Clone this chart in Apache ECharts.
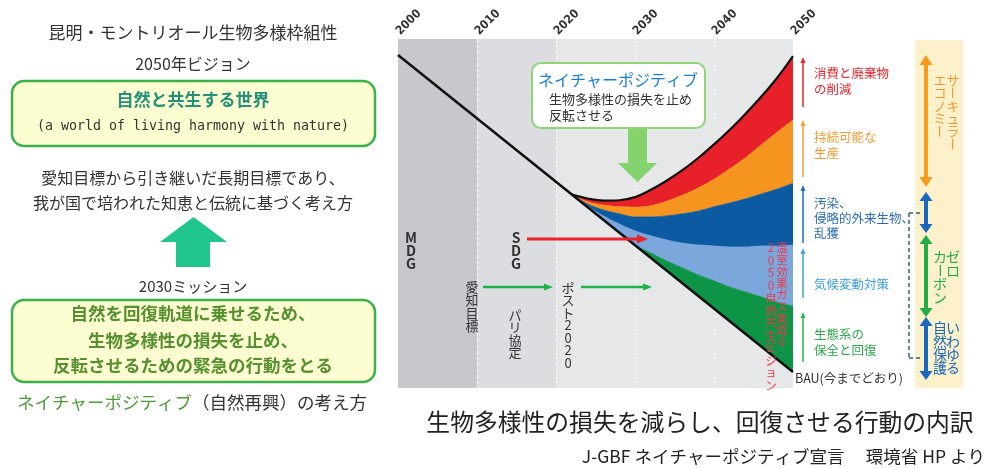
<!DOCTYPE html>
<html><head><meta charset="utf-8">
<script src="https://cdn.jsdelivr.net/npm/echarts@6/dist/echarts.min.js"></script>
<style>html,body{margin:0;padding:0;background:#fff}#c{width:999px;height:469px}</style>
</head><body><div id="c"></div>
<script>
// ---- data (y in arbitrary 0-100 units) ----
const years = [2022,2024,2026,2028,2030,2032,2034,2036,2038,2040,2042,2044,2046,2048,2050];
const bauLine = [[2000, 95.4], [2050, 4.6]];
const bau          = [55.4,51.7,48.3,44.6,40.9,37.2,33.6,30.1,26.4,22.8,19.1,15.4,12.0,8.3,4.6];
const greenTop     = [55.4,51.7,48.3,44.6,40.9,38.7,36.4,34.4,32.4,30.7,28.9,27.5,26.1,24.6,23.5];
const lightBlueTop = [55.4,52.1,49.3,47.0,45.0,43.6,42.4,41.5,41.0,40.7,40.4,40.4,40.7,40.7,41.0];
const blueTop      = [55.4,52.7,51.0,49.9,49.0,49.0,49.3,49.9,50.7,51.9,53.0,54.2,55.6,57.0,58.7];
const orangeTop    = [55.4,53.4,52.4,51.9,51.8,52.2,53.5,55.2,57.3,59.8,62.8,66.0,69.7,73.3,76.8];
const natureTop    = [55.4,54.3,53.7,53.8,54.7,56.8,59.4,62.4,65.9,69.8,74.0,78.6,83.5,88.9,95.1];
const bandColors = ['#c6c8cb', '#dcdde0', '#e6e7e9', '#e6e7e9', '#e6e7e9'];

const FONT = '"Noto Sans CJK JP", "Noto Sans CJK SC", sans-serif';
// data rows are [value, year] so that the stack is applied to the value dimension
const rows = arr => years.map((y, i) => [arr[i], y]);
const diffRows = (a, b) => years.map((y, i) => [+(a[i] - b[i]).toFixed(2), y]);

function T(x, y, text, size, color, opt) {
  opt = opt || {};
  const al = opt.align || 'center';
  return {type: 'text', x: x, y: y, z: 50, silent: true, rotation: opt.rotation || 0,
    style: Object.assign({text: text, fill: color, fontSize: size, fontFamily: opt.family || FONT,
      fontWeight: opt.bold ? 'bold' : 'normal', align: al, verticalAlign: 'middle',
      textAlign: al, textVerticalAlign: 'middle'}, opt.style || {})};
}
function VT(x, y0, str, lh, size, color, bold) {
  return Array.from(str).map((c, i) => T(x, y0 + i * lh, c, size, color,
    {bold: bold, rotation: c === 'ー' ? -Math.PI / 2 : 0}));
}
function L(x1, y1, x2, y2, color, w, dash) {
  return {type: 'line', z: 50, silent: true, shape: {x1, y1, x2, y2},
    style: {stroke: color, lineWidth: w, lineDash: dash || null}};
}
function P(points, color) {
  return {type: 'polygon', z: 50, silent: true, shape: {points: points}, style: {fill: color}};
}
function R(x, y, w, h, r, fill, stroke, lw) {
  return {type: 'rect', z: 40, silent: true, shape: {x, y, width: w, height: h, r: r},
    style: {fill: fill, stroke: stroke || null, lineWidth: lw || 0}};
}
function arrowUp(x, yT, yB, color, w, hw, hh) {
  return [L(x, yT + hh - 1, x, yB, color, w), P([[x - hw / 2, yT + hh], [x, yT], [x + hw / 2, yT + hh]], color)];
}
function arrowRight(x1, x2, y, color, w, hw, hl) {
  return [L(x1, y, x2 - hl + 1, y, color, w), P([[x2 - hl, y - hw / 2], [x2, y], [x2 - hl, y + hw / 2]], color)];
}
function dbl(x, y1, y2, color, w, hw, hh) {
  return [L(x, y1 + hh - 1, x, y2 - hh + 1, color, w),
    P([[x - hw / 2, y1 + hh], [x, y1], [x + hw / 2, y1 + hh]], color),
    P([[x - hw / 2, y2 - hh], [x, y2], [x + hw / 2, y2 - hh]], color)];
}

const g = [];
// ---- left panel ----
g.push(T(193, 33, '昆明・モントリオール生物多様枠組性', 17, '#333'));
g.push(T(193, 64, '2050年ビジョン', 16, '#333'));
g.push(R(12, 81, 363, 65, 12, '#fdfdd2', '#3bb14a', 2.5));
g.push(T(193, 100, '自然と共生する世界', 17, '#23917a', {bold: true}));
g.push(T(193, 127, '(a world of living harmony with nature)', 13.3, '#333', {family: '"DejaVu Sans Mono", monospace'}));
g.push(T(193, 178, '愛知目標から引き継いだ長期目標であり、', 16, '#333'));
g.push(T(193, 203, '我が国で培われた知恵と伝統に基づく考え方', 16, '#333'));
g.push(P([[160, 242], [193.5, 217], [227, 242], [210, 242], [210, 267], [176, 267], [176, 242]], '#1fc58b'));
g.push(T(193, 286, '2030ミッション', 15, '#333'));
g.push(R(12, 300, 363, 82, 12, '#fdfdd2', '#3bb14a', 2.5));
g.push(T(193, 313, '自然を回復軌道に乗せるため、', 17.5, '#56902f', {bold: true}));
g.push(T(193, 340, '生物多様性の損失を止め、', 17.5, '#56902f', {bold: true}));
g.push(T(193, 365, '反転させるための緊急の行動をとる', 17.5, '#56902f', {bold: true}));
g.push(T(17, 402, '{a|ネイチャーポジティブ}{b|（自然再興）の考え方}', 17.5, '#333', {align: 'left', style: {
  rich: {a: {fill: '#4f9a3a', fontSize: 17.5, fontFamily: FONT}, b: {fill: '#333', fontSize: 17.5, fontFamily: FONT}}}}));

// ---- chart annotations ----
g.push(R(532, 63, 173, 65, 9, '#ffffff', '#90d47a', 2));
g.push(T(538, 80, 'ネイチャーポジティブ', 16, '#1b7fd4', {align: 'left'}));
g.push(T(549, 99, '生物多様性の損失を止め', 13, '#333', {align: 'left'}));
g.push(T(549, 115, '反転させる', 13, '#333', {align: 'left'}));
g.push(P([[628, 129], [647, 129], [647, 163], [657, 163], [637.5, 182], [618, 163], [628, 163]], '#84d36c'));

g.push(...VT(411, 238, 'MDG', 13, 14, '#333', true));
g.push(...VT(516, 238, 'SDG', 13, 14, '#333', true));
g.push(...arrowRight(527, 648, 239, '#e8242a', 3, 9, 11));
g.push(...VT(472, 287, '愛知目標', 13, 13, '#333'));
g.push(...arrowRight(483, 553, 287, '#1db34a', 2.5, 7, 9));
g.push(...VT(515, 315, 'パリ協定', 12.5, 13, '#333'));
g.push(...VT(568, 288, 'ポスト2020', 12.5, 13, '#333'));
g.push(...arrowRight(581, 652, 287, '#1db34a', 2.5, 7, 9));
g.push(...VT(782, 248, '温室効果ガス実質0', 11.75, 11.5, '#f0384a'));
g.push(...VT(771, 248, '2050自然共生ビジョン', 12.5, 11.5, '#f0384a'));
g.push(T(795, 378, 'BAU(今までどおり)', 12.5, '#333', {align: 'left'}));

// right-side thin arrows and labels
g.push(...arrowUp(803, 57, 107, '#e8242a', 1.5, 5, 6));
g.push(...arrowUp(803, 120, 177, '#f4a030', 1.5, 5, 6));
g.push(...arrowUp(803, 185, 243, '#1a6cc0', 1.5, 5, 6));
g.push(...arrowUp(803, 248, 298, '#3fa2dd', 1.5, 5, 6));
g.push(...arrowUp(803, 312, 362, '#2bb04a', 1.5, 5, 6));
g.push(T(814, 73, '消費と廃棄物', 12.5, '#e8242a', {align: 'left'}));
g.push(T(814, 89, 'の削減', 12.5, '#e8242a', {align: 'left'}));
g.push(T(814, 137, '持続可能な', 12.5, '#f39b32', {align: 'left'}));
g.push(T(814, 153, '生産', 12.5, '#f39b32', {align: 'left'}));
g.push(T(814, 203, '汚染、', 12.5, '#2e6db5', {align: 'left'}));
g.push(T(814, 218, '侵略的外来生物、', 12.5, '#2e6db5', {align: 'left'}));
g.push(T(814, 233, '乱獲', 12.5, '#2e6db5', {align: 'left'}));
g.push(T(814, 284, '気候変動対策', 12.5, '#3a9fdb', {align: 'left'}));
g.push(T(814, 334, '生態系の', 12.5, '#2ea84a', {align: 'left'}));
g.push(T(814, 350, '保全と回復', 12.5, '#2ea84a', {align: 'left'}));

// beige column
g.push(R(915, 40, 48, 348, 0, '#fdf1cc'));
g.push(...dbl(926, 55, 187, '#f79b1c', 4, 13, 10));
g.push(...dbl(926, 192, 233, '#1a68bd', 4, 13, 9));
g.push(...dbl(926, 235, 317, '#22ad48', 4, 13, 9));
g.push(...dbl(926, 317, 380, '#1a68bd', 4, 13, 9));
g.push(...VT(953, 80, 'サーキュラー', 12.8, 13, '#f39b32'));
g.push(...VT(940, 80, 'エコノミー', 12.8, 13, '#f39b32'));
g.push(...VT(953, 257, 'ゼロ', 14, 14, '#22ad48'));
g.push(...VT(940, 257, 'カーボン', 13.5, 14, '#22ad48'));
g.push(...VT(953, 328, 'いわゆる', 13.3, 14, '#1a68bd'));
g.push(...VT(940, 328, '自然保護', 13.3, 14, '#1a68bd'));
g.push(L(909, 213, 909, 358, '#2f5f78', 1.5, [4, 3]));
g.push(L(909, 213, 921, 213, '#2f5f78', 1.5, [4, 3]));
g.push(L(909, 358, 921, 358, '#2f5f78', 1.5, [4, 3]));

// captions
g.push(T(700, 422, '生物多様性の損失を減らし、回復させる行動の内訳', 23.8, '#222'));
g.push(T(985, 456, 'J-GBF ネイチャーポジティブ宣言　 環境省 HP より', 17.5, '#222', {align: 'right'}));

function band(name, data, color, lineColor, lw) {
  return {type: 'line', name: name, data: data, encode: {x: 1, y: 0}, stack: 'nature',
    smooth: 0.35, symbol: 'none', silent: true, z: 3,
    lineStyle: {color: lineColor || color, width: lw == null ? 0.8 : lw},
    areaStyle: {color: color, opacity: 1}};
}

const option = {
  animation: false,
  backgroundColor: '#fff',
  grid: {left: 398, right: 206, top: 39, bottom: 81},
  xAxis: {type: 'value', min: 2000, max: 2050, interval: 10, position: 'top',
    axisLine: {show: false}, axisTick: {show: false},
    axisLabel: {rotate: 45, color: '#333', fontWeight: 'bold', fontSize: 12, margin: 6,
      formatter: v => String(v),
      fontFamily: '"Liberation Sans Narrow", "DejaVu Sans Condensed", sans-serif'},
    splitLine: {show: true, showMinLine: false, showMaxLine: false,
      lineStyle: {color: '#ffffff', type: [3, 3], width: 1}},
    splitArea: {show: true, areaStyle: {color: bandColors, opacity: 1}}},
  yAxis: {type: 'value', min: 0, max: 100, show: false, splitLine: {show: false}},
  series: [
    {type: 'line', name: 'base', data: rows(bau), encode: {x: 1, y: 0}, stack: 'nature',
      smooth: 0.35, symbol: 'none', silent: true, z: 3, lineStyle: {width: 0, opacity: 0}},
    band('green', diffRows(greenTop, bau), '#0e9447'),
    band('lightblue', diffRows(lightBlueTop, greenTop), '#7ba7dc'),
    band('blue', diffRows(blueTop, lightBlueTop), '#0b5aa2'),
    band('orange', diffRows(orangeTop, blueTop), '#f5951f'),
    band('red', diffRows(natureTop, orangeTop), '#e8202a', '#111', 2.2),
    {type: 'line', name: 'BAU', data: bauLine, symbol: 'none', silent: true, z: 4,
      lineStyle: {color: '#111', width: 2.5}}
  ],
  graphic: {elements: g}
};
const chart = echarts.init(document.getElementById('c'));
chart.setOption(option);
</script></body></html>
